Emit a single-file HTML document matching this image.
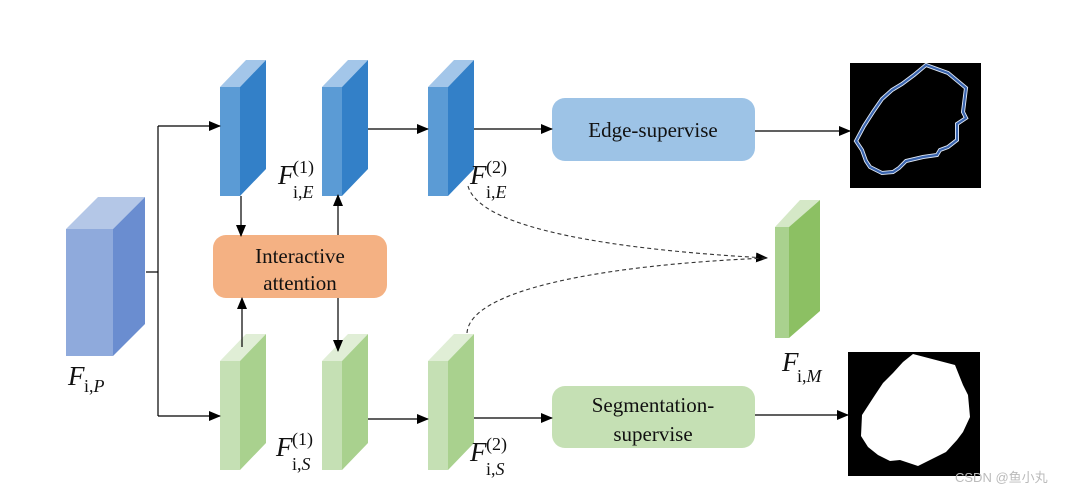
<!DOCTYPE html>
<html><head><meta charset="utf-8"><style>
html,body{margin:0;padding:0;background:#fff;}
svg{display:block;}
text{font-family:"Liberation Serif",serif;fill:#111;}
</style></head><body>
<svg width="1071" height="494" viewBox="0 0 1071 494" xmlns="http://www.w3.org/2000/svg">
<defs>
<marker id="ah" markerWidth="12" markerHeight="10" refX="11" refY="5" orient="auto" markerUnits="userSpaceOnUse"><path d="M0,0 L12,5 L0,10 z" fill="#000"/></marker>
</defs>

<polygon points="66,229 98,197 145,197 113,229" fill="#b4c7e7"/>
<polygon points="113,229 145,197 145,324 113,356" fill="#6a8dd0"/>
<rect x="66" y="229" width="47" height="127" fill="#8faadc"/>

<g>
<polygon points="220,87 246,60 266,60 240,87" fill="#a3c6e9"/>
<polygon points="240,87 266,60 266,169 240,196" fill="#3380c8"/>
<rect x="220" y="87" width="20" height="109" fill="#5b9bd5"/>
</g>
<g>
<polygon points="322,87 348,60 368,60 342,87" fill="#a3c6e9"/>
<polygon points="342,87 368,60 368,169 342,196" fill="#3380c8"/>
<rect x="322" y="87" width="20" height="109" fill="#5b9bd5"/>
</g>
<g>
<polygon points="428,87 454,60 474,60 448,87" fill="#a3c6e9"/>
<polygon points="448,87 474,60 474,169 448,196" fill="#3380c8"/>
<rect x="428" y="87" width="20" height="109" fill="#5b9bd5"/>
</g>

<g>
<polygon points="220,361 246,334 266,334 240,361" fill="#e0eed6"/>
<polygon points="240,361 266,334 266,443 240,470" fill="#a9d18e"/>
<rect x="220" y="361" width="20" height="109" fill="#c5e0b4"/>
</g>
<g>
<polygon points="322,361 348,334 368,334 342,361" fill="#e0eed6"/>
<polygon points="342,361 368,334 368,443 342,470" fill="#a9d18e"/>
<rect x="322" y="361" width="20" height="109" fill="#c5e0b4"/>
</g>
<g>
<polygon points="428,361 454,334 474,334 448,361" fill="#e0eed6"/>
<polygon points="448,361 474,334 474,443 448,470" fill="#a9d18e"/>
<rect x="428" y="361" width="20" height="109" fill="#c5e0b4"/>
</g>

<polygon points="775,227 800,200 820,200 789,227" fill="#d5e8c7"/>
<polygon points="789,227 820,200 820,311 789,338" fill="#8cc063"/>
<rect x="775" y="227" width="14" height="111" fill="#a9d18e"/>

<rect x="552" y="98" width="203" height="63" rx="13" fill="#9dc3e6"/>
<text x="653" y="137" font-size="21" text-anchor="middle">Edge-supervise</text>
<rect x="213" y="235" width="174" height="63" rx="13" fill="#f4b183"/>
<text x="300" y="263" font-size="21" text-anchor="middle">Interactive</text>
<text x="300" y="290" font-size="21" text-anchor="middle">attention</text>
<rect x="552" y="386" width="203" height="62" rx="13" fill="#c5e0b4"/>
<text x="653" y="412" font-size="21" text-anchor="middle">Segmentation-</text>
<text x="653" y="441" font-size="21" text-anchor="middle">supervise</text>

<g stroke="#000" stroke-width="1.2" fill="none">
<line x1="146" y1="272" x2="158" y2="272"/>
<line x1="158" y1="126" x2="158" y2="416"/>
<line x1="158" y1="126" x2="220" y2="126" marker-end="url(#ah)"/>
<line x1="158" y1="416" x2="220" y2="416" marker-end="url(#ah)"/>
<line x1="368" y1="129" x2="428" y2="129" marker-end="url(#ah)"/>
<line x1="474" y1="129" x2="552" y2="129" marker-end="url(#ah)"/>
<line x1="755" y1="131" x2="850" y2="131" marker-end="url(#ah)"/>
<line x1="241" y1="196" x2="241" y2="236" marker-end="url(#ah)"/>
<line x1="338" y1="235" x2="338" y2="195" marker-end="url(#ah)"/>
<line x1="242" y1="347" x2="242" y2="298" marker-end="url(#ah)"/>
<line x1="338" y1="298" x2="338" y2="351" marker-end="url(#ah)"/>
<line x1="368" y1="419" x2="428" y2="419" marker-end="url(#ah)"/>
<line x1="474" y1="418" x2="552" y2="418" marker-end="url(#ah)"/>
<line x1="755" y1="415" x2="848" y2="415" marker-end="url(#ah)"/>
</g>
<g stroke="#333" stroke-width="1.1" fill="none" stroke-dasharray="4,3">
<path d="M468,186 C480,230 620,250 767,258" marker-end="url(#ah)"/>
<path d="M467,333 C470,290 600,265 767,258"/>
</g>

<rect x="850" y="63" width="131" height="125" fill="#000"/>
<polygon points="926,65 948,73 966,88 963,112 966,118 957,124 957,140 948,147 940,150 937,155 923,157 906,161 899,168 893,172 882,173 870,167 866,161 862,150 856,141 864,126 873,112 882,99 892,90 902,84 914,75" fill="none" stroke="#dfe8f5" stroke-width="4"/>
<polygon points="926,65 948,73 966,88 963,112 966,118 957,124 957,140 948,147 940,150 937,155 923,157 906,161 899,168 893,172 882,173 870,167 866,161 862,150 856,141 864,126 873,112 882,99 892,90 902,84 914,75" fill="none" stroke="#3a64ad" stroke-width="2.2"/>
<rect x="848" y="352" width="132" height="124" fill="#000"/>
<polygon points="913,354 955,365 963,385 968,395 970,417 963,432 957,440 946,452 930,460 918,466 900,460 890,461 878,455 868,447 861,436 862,415 875,395 883,383 893,373 903,362" fill="#fff"/>

<g font-style="italic">
<text x="278" y="184" font-size="27">F</text>
<text x="470" y="184" font-size="27">F</text>
<text x="276" y="456" font-size="27">F</text>
<text x="470" y="461" font-size="27">F</text>
<text x="68" y="385" font-size="27">F</text>
<text x="782" y="371" font-size="27">F</text>
</g>
<text x="293" y="173" font-size="18">(1)</text>
<text x="293" y="198" font-size="18">i,<tspan font-style="italic">E</tspan></text>
<text x="486" y="173" font-size="18">(2)</text>
<text x="486" y="198" font-size="18">i,<tspan font-style="italic">E</tspan></text>
<text x="292" y="445" font-size="18">(1)</text>
<text x="292" y="470" font-size="18">i,<tspan font-style="italic">S</tspan></text>
<text x="486" y="450" font-size="18">(2)</text>
<text x="486" y="475" font-size="18">i,<tspan font-style="italic">S</tspan></text>
<text x="84" y="392" font-size="18">i,<tspan font-style="italic">P</tspan></text>
<text x="797" y="382" font-size="18">i,<tspan font-style="italic">M</tspan></text>

<text x="955" y="482" font-size="13" style="font-family:'Liberation Sans','Noto Sans CJK SC',sans-serif;fill:#bbb">CSDN @鱼小丸</text>
</svg>
</body></html>
